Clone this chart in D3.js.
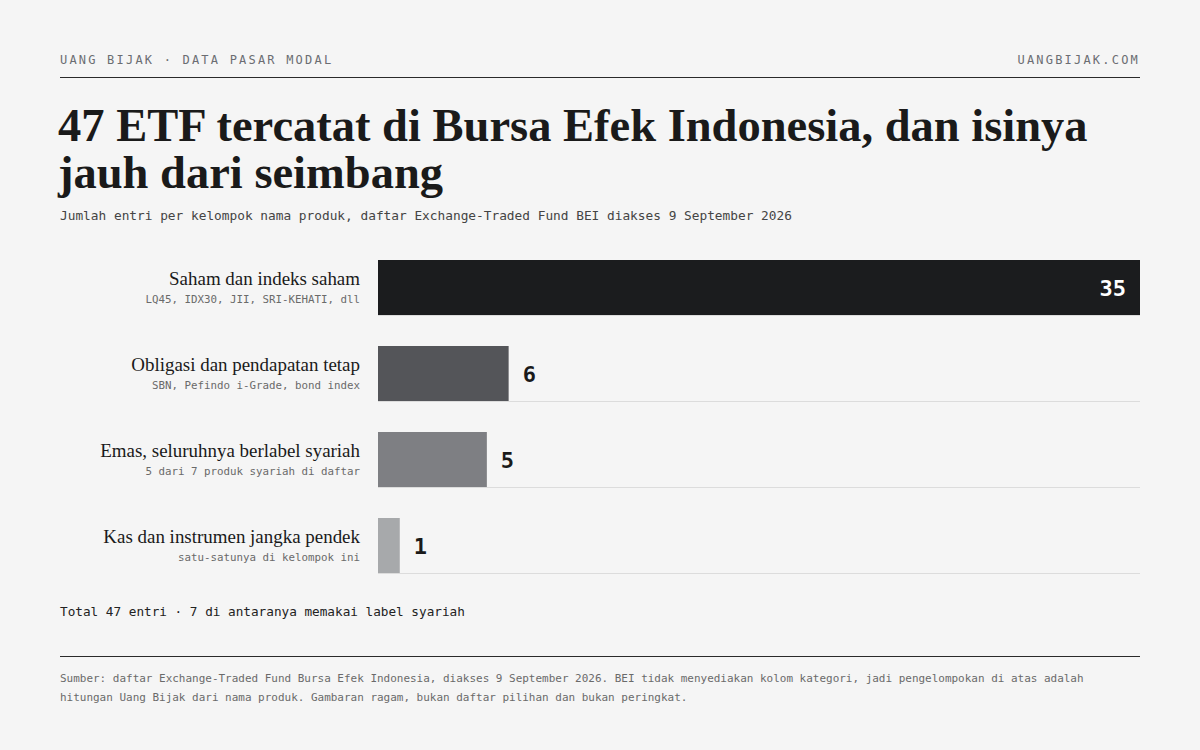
<!DOCTYPE html>
<html><head><meta charset="utf-8">
<script src="https://cdn.jsdelivr.net/npm/d3@7"></script>
<style>
html,body{margin:0;padding:0;background:#f5f5f5;}
svg{display:block;}
</style></head>
<body>
<svg id="c" width="1200" height="750"></svg>
<script>
const categories = ["Saham dan indeks saham","Obligasi dan pendapatan tetap","Emas, seluruhnya berlabel syariah","Kas dan instrumen jangka pendek"];
const subLabels = ["LQ45, IDX30, JII, SRI-KEHATI, dll","SBN, Pefindo i-Grade, bond index","5 dari 7 produk syariah di daftar","satu-satunya di kelompok ini"];
const values = [35, 6, 5, 1];
const barColors = ["#1b1c1e","#545559","#7e7f83","#a7a9ab"];

const serif = "Georgia, 'Liberation Serif', serif";
const mono = "'DejaVu Sans Mono', 'Liberation Mono', monospace";
const svg = d3.select("#c");
svg.append("rect").attr("width",1200).attr("height",750).attr("fill","#f5f5f5");

const L = 60, R = 1140;
svg.append("text").attr("x",L).attr("y",64).attr("font-family",mono).attr("font-size",12)
  .attr("letter-spacing",2.2).attr("fill","#6b6d72").text("UANG BIJAK · DATA PASAR MODAL");
svg.append("text").attr("x",R).attr("y",64).attr("text-anchor","end").attr("font-family",mono).attr("font-size",12)
  .attr("letter-spacing",2.2).attr("fill","#6b6d72").text("UANGBIJAK.COM");
svg.append("line").attr("x1",L).attr("x2",R).attr("y1",77.5).attr("y2",77.5).attr("stroke","#2a2a2a").attr("stroke-width",1.2);

const title = svg.append("text").attr("font-family",serif).attr("font-weight","bold").attr("font-size",44).attr("fill","#1a1a1a");
const t1 = title.append("tspan").attr("x",L-2).attr("y",141).text("47 ETF tercatat di Bursa Efek Indonesia, dan isinya");
title.append("tspan").attr("x",L-2).attr("y",188).text("jauh dari seimbang");
// fit first title line to reference width (~1030px)
const w1 = t1.node().getComputedTextLength();
title.attr("font-size", 44 * 1030 / w1);

svg.append("text").attr("x",L).attr("y",219.5).attr("font-family",mono).attr("font-size",12.8).attr("fill","#444")
  .text("Jumlah entri per kelompok nama produk, daftar Exchange-Traded Fund BEI diakses 9 September 2026");

const x = d3.scaleLinear().domain([0, 35]).range([378, 1140]);
const y = d3.scaleBand().domain(categories).range([260, 573]).paddingInner(31/86).paddingOuter(0);

const g = svg.append("g");
const rows = g.selectAll("g.row").data(categories).join("g").attr("class","row");
rows.append("line").attr("x1",x(0)).attr("x2",x(35))
  .attr("y1",d=>y(d)+y.bandwidth()+0.5).attr("y2",d=>y(d)+y.bandwidth()+0.5)
  .attr("stroke","#dcdcdc").attr("stroke-width",1);
rows.append("rect").attr("x",x(0)).attr("y",d=>y(d))
  .attr("width",(d,i)=>x(values[i])-x(0)).attr("height",y.bandwidth())
  .attr("fill",(d,i)=>barColors[i]);
const labs = rows.append("text").attr("x",360).attr("y",d=>y(d)+25).attr("text-anchor","end")
  .attr("font-family",serif).attr("font-size",19).attr("fill","#1a1a1a").text(d=>d);
const lw = labs.node().getComputedTextLength();
labs.attr("font-size", 19 * 191 / lw);
rows.append("text").attr("x",360).attr("y",(d)=>y(d)+43).attr("text-anchor","end")
  .attr("font-family",mono).attr("font-size",10.8).attr("fill","#6a6a6a").text((d,i)=>subLabels[i]);
rows.append("text")
  .attr("x",(d,i)=> values[i] >= 10 ? x(values[i]) - 14 : x(values[i]) + 14)
  .attr("y",d=>y(d)+y.bandwidth()/2+8)
  .attr("text-anchor",(d,i)=> values[i] >= 10 ? "end" : "start")
  .attr("font-family",mono).attr("font-weight","bold").attr("font-size",22)
  .attr("fill",(d,i)=> values[i] >= 10 ? "#ffffff" : "#1a1a1a")
  .text((d,i)=>values[i]);

svg.append("text").attr("x",L).attr("y",615.5).attr("font-family",mono).attr("font-size",12.7).attr("fill","#222")
  .text("Total 47 entri · 7 di antaranya memakai label syariah");
svg.append("line").attr("x1",L).attr("x2",R).attr("y1",656.5).attr("y2",656.5).attr("stroke","#2a2a2a").attr("stroke-width",1.2);
const foot = ["Sumber: daftar Exchange-Traded Fund Bursa Efek Indonesia, diakses 9 September 2026. BEI tidak menyediakan kolom kategori, jadi pengelompokan di atas adalah",
              "hitungan Uang Bijak dari nama produk. Gambaran ragam, bukan daftar pilihan dan bukan peringkat."];
svg.selectAll("text.foot").data(foot).join("text").attr("class","foot")
  .attr("x",L).attr("y",(d,i)=>682+i*19).attr("font-family",mono).attr("font-size",10.97).attr("fill","#6a6a6a").text(d=>d);
</script>
</body></html>
